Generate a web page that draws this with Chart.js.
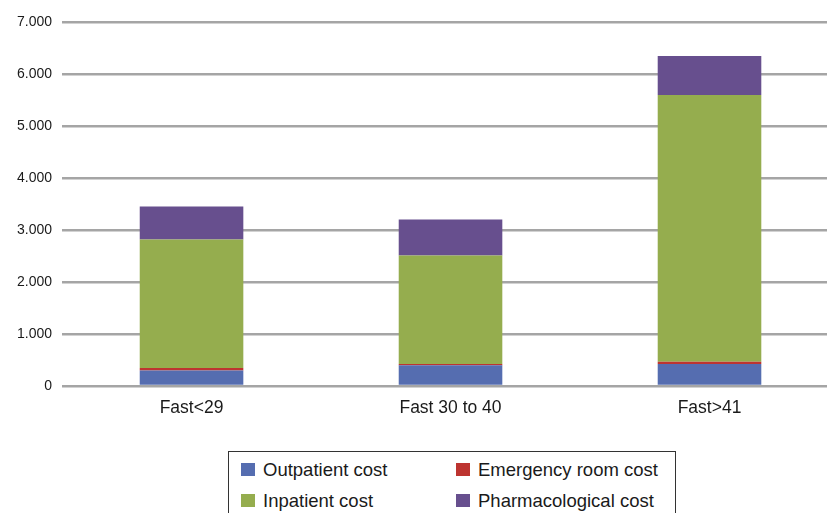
<!DOCTYPE html>
<html>
<head>
<meta charset="utf-8">
<script src="https://cdn.jsdelivr.net/npm/chart.js@4.4.1/dist/chart.umd.min.js"></script>
<style>
  html, body { margin: 0; padding: 0; background: #fff; overflow: hidden; }
  body { width: 827px; height: 513px; position: relative; font-family: "Liberation Sans", Arial, Helvetica, sans-serif; }
  #chart-wrap { position: absolute; left: 0; top: 0; width: 839px; height: 431px; }
  #legend-box {
    position: absolute; left: 228px; top: 451px; width: 448px; height: 80px;
    border: 1px solid #333; box-sizing: border-box; background: #fff;
  }
  .legend-item { position: absolute; display: flex; align-items: center; font-size: 18.5px; line-height: 21px; color: #1a1a1a; white-space: nowrap; }
  .legend-swatch { width: 14px; height: 13px; margin-right: 8px; }
</style>
</head>
<body>
<div id="chart-wrap"><canvas id="cost-chart"></canvas></div>
<div id="legend-box"></div>
<script>
// ========================================
// DATA
// ========================================
const categories = ['Fast<29', 'Fast 30 to 40', 'Fast>41'];
const outpatientCost = [300, 400, 425];
const emergencyCost = [45, 25, 40];
const inpatientCost = [2470, 2083, 5130];
const pharmaCost = [637, 694, 752];
const yTicks = [0, 1000, 2000, 3000, 4000, 5000, 6000, 7000];

const seriesNames = ['Outpatient cost', 'Emergency room cost', 'Inpatient cost', 'Pharmacological cost'];
const seriesColors = ['#556db0', '#bd3430', '#95ad4e', '#674f8e'];
const seriesData = [outpatientCost, emergencyCost, inpatientCost, pharmaCost];

// Format 7000 -> "7.000"
function formatThousands(val) {
  return String(val).replace(/\B(?=(\d{3})+(?!\d))/g, '.');
}

const datasets = seriesNames.map(function(name, i) {
  return {
    label: name,
    data: seriesData[i],
    backgroundColor: seriesColors[i],
    borderWidth: 0,
    barPercentage: 0.4,
    categoryPercentage: 1.0
  };
});

const ctx = document.getElementById('cost-chart').getContext('2d');
new Chart(ctx, {
  type: 'bar',
  data: { labels: categories, datasets: datasets },
  options: {
    responsive: true,
    maintainAspectRatio: false,
    animation: false,
    layout: { padding: { top: 22, left: 7, right: 0, bottom: 0 } },
    plugins: {
      legend: { display: false },
      tooltip: { enabled: false }
    },
    scales: {
      x: {
        stacked: true,
        grid: { display: false, drawTicks: false },
        border: { display: false },
        ticks: {
          padding: 12,
          color: '#1a1a1a',
          font: { family: '"Liberation Sans", Arial, Helvetica, sans-serif', size: 17.5 }
        }
      },
      y: {
        stacked: true,
        min: 0,
        max: 7000,
        afterBuildTicks: function(scale) {
          scale.ticks = yTicks.map(function(v) { return { value: v }; });
        },
        grid: { color: '#a5a5a5', lineWidth: 2.5, drawTicks: false },
        border: { display: false },
        ticks: {
          padding: 10,
          color: '#1a1a1a',
          font: { family: '"Liberation Sans", Arial, Helvetica, sans-serif', size: 14 },
          callback: function(value) { return formatThousands(value); }
        }
      }
    }
  }
});

// Legend (two columns, in a box like the original)
const legendBox = document.getElementById('legend-box');
const legendPos = [[12, 7], [227, 7], [12, 38], [227, 38]];
seriesNames.forEach(function(name, i) {
  const item = document.createElement('div');
  item.className = 'legend-item';
  item.style.left = legendPos[i][0] + 'px';
  item.style.top = legendPos[i][1] + 'px';
  item.innerHTML = '<span class="legend-swatch" style="background:' + seriesColors[i] + '"></span>' + name;
  legendBox.appendChild(item);
});
</script>
</body>
</html>
